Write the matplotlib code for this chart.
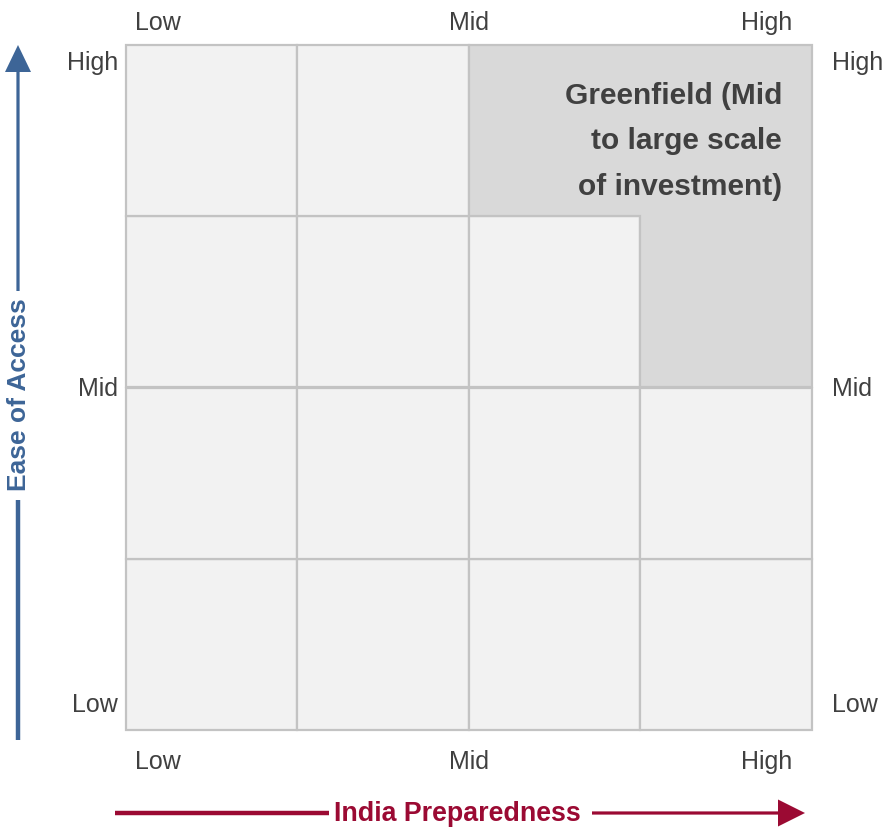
import matplotlib
matplotlib.use("Agg")
import matplotlib.pyplot as plt
from matplotlib import font_manager
from matplotlib.patches import Rectangle, Polygon, FancyArrow

# Available families; prefer a narrow sans if present
names = {f.name for f in font_manager.fontManager.ttflist}
FAMILY = "Liberation Sans Narrow" if "Liberation Sans Narrow" in names else "Liberation Sans"
plt.rcParams["font.family"] = [FAMILY, "DejaVu Sans"]

# ---- data ----
levels = ["Low", "Mid", "High"]
n_cols = 4
n_rows = 4
# highlighted region as (col, row) cells, row 0 at bottom
highlight_cells = [(2, 3), (3, 3), (3, 2)]
highlight_text = "Greenfield (Mid\nto large scale\nof investment)"
x_title = "India Preparedness"
y_title = "Ease of Access"

# ---- style ----
W, H = 895, 833
CELL = "#f2f2f2"
HIGH = "#d9d9d9"
EDGE = "#c3c3c3"
TXT = "#404040"
RED = "#9b0a33"
BLUE = "#3d6597"

fig = plt.figure(figsize=(W / 100, H / 100), dpi=100)

# grid area in pixels
gx0, gx1, gy0, gy1 = 126, 812, 45, 730
ax = fig.add_axes([gx0 / W, (H - gy1) / H, (gx1 - gx0) / W, (gy1 - gy0) / H])
ax.set_xlim(0, n_cols)
ax.set_ylim(0, n_rows)
ax.axis("off")

for c in range(n_cols):
    for r in range(n_rows):
        if (c, r) in highlight_cells:
            continue
        ax.add_patch(Rectangle((c, r), 1, 1, facecolor=CELL, edgecolor=EDGE,
                               linewidth=1.6, clip_on=False))

# outline of the merged highlighted cells (L-shape)
poly = [(2, 4), (4, 4), (4, 2), (3, 2), (3, 3), (2, 3)]
ax.add_patch(Polygon(poly, closed=True, facecolor=HIGH, edgecolor=EDGE,
                     linewidth=1.6, clip_on=False, zorder=3))
ax.text(3.825, 3.785, highlight_text, ha="right", va="top", fontsize=21.5,
        fontweight="bold", color=TXT, linespacing=1.8, zorder=4)

# overlay in pixel coordinates for labels and arrows
ov = fig.add_axes([0, 0, 1, 1])
ov.set_xlim(0, W)
ov.set_ylim(H, 0)
ov.axis("off")
ov.patch.set_alpha(0)

fs = 18
# top and bottom level labels
xs = [(gx0 + 9, "left"), ((gx0 + gx1) / 2, "center"), (gx1 - 20, "right")]
for lab, (x, ha) in zip(levels, xs):
    ov.text(x, 23, lab, ha=ha, va="center", fontsize=fs, color=TXT)
    ov.text(x, 762, lab, ha=ha, va="center", fontsize=fs, color=TXT)
# left and right level labels
ys = [705, 389, 63]
for lab, y in zip(levels, ys):
    ov.text(118, y, lab, ha="right", va="center", fontsize=fs, color=TXT)
    ov.text(832, y, lab, ha="left", va="center", fontsize=fs, color=TXT)

# horizontal axis arrow with title
ov.plot([115, 329], [813, 813], color=RED, lw=3.2, solid_capstyle="butt")
ov.add_patch(FancyArrow(592, 813, 213, 0, width=3.2, head_width=27,
                        head_length=27, length_includes_head=True,
                        color=RED, lw=0))
ov.text(457, 814, x_title, ha="center", va="center", fontsize=19.3,
        fontweight="bold", color=RED)

# vertical axis arrow with title
ov.plot([18, 18], [740, 500], color=BLUE, lw=3.2, solid_capstyle="butt")
ov.add_patch(FancyArrow(18, 291, 0, -246, width=3.2, head_width=26,
                        head_length=27, length_includes_head=True,
                        color=BLUE, lw=0))
ov.text(19, 395, y_title, ha="center", va="center", rotation=90, fontsize=19,
        fontweight="bold", color=BLUE)

fig.savefig("out.png", dpi=100, facecolor="white")
